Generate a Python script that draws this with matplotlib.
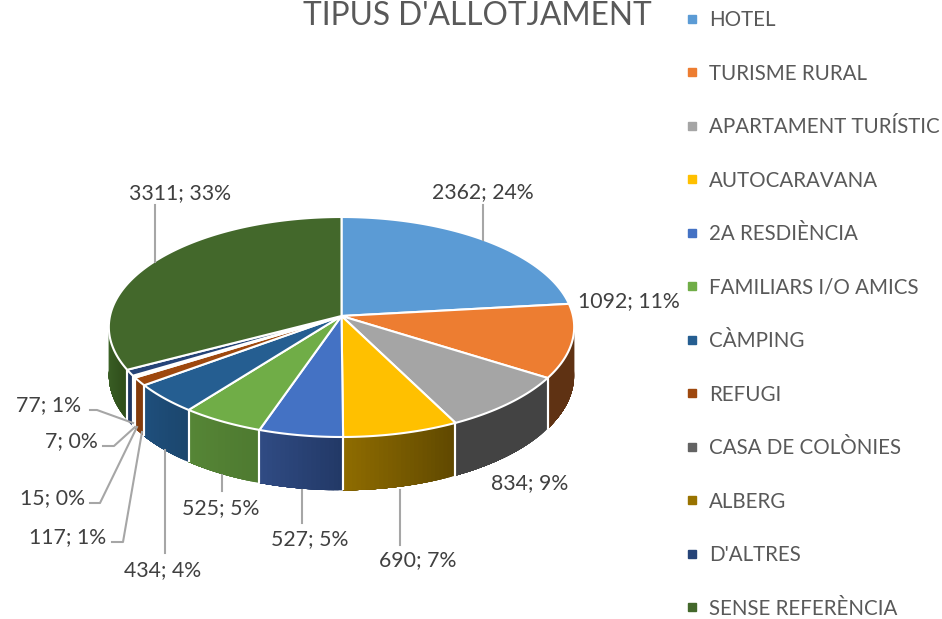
import numpy as np
import matplotlib
matplotlib.use("Agg")
import matplotlib.pyplot as plt
from matplotlib.lines import Line2D

plt.rcParams['font.family'] = ['Lato', 'DejaVu Sans']

categories = ["HOTEL", "TURISME RURAL", "APARTAMENT TURÍSTIC", "AUTOCARAVANA",
              "2A RESDIÈNCIA", "FAMILIARS I/O AMICS", "CÀMPING", "REFUGI",
              "CASA DE COLÒNIES", "ALBERG", "D'ALTRES", "SENSE REFERÈNCIA"]
# printed labels do not add up with the drawn slices, so slice sizes are read separately
labels = ["2362; 24%", "1092; 11%", "834; 9%", "690; 7%", "527; 5%", "525; 5%",
          "434; 4%", "117; 1%", "15; 0%", "7; 0%", "77; 1%", "3311; 33%"]
slice_pct = [23.2, 10.85, 8.55, 7.3, 5.3, 5.2, 4.4, 1.2, 0.2, 0.1, 0.9, 32.8]

top_colors = ["#5B9BD5", "#ED7D31", "#A5A5A5", "#FFC000", "#4472C4", "#70AD47",
              "#255E91", "#9E480E", "#636363", "#997300", "#264478", "#43682B"]
side_left = ["#5B9BD5", "#5F3213", "#434343", "#8F6C00", "#304C84", "#568636",
             "#1F4F7C", "#843C0C", "#4A4A4A", "#735600", "#1F3864", "#3F6629"]
side_right = ["#5B9BD5", "#5F3213", "#434343", "#5F4800", "#223866", "#4E7A30",
              "#1B466E", "#843C0C", "#4A4A4A", "#735600", "#1F3864", "#2F4E1B"]

# label centre, then the leader line (empty when the label has none)
label_pos = [(483, 192), (629, 301), (530, 483), (418, 560), (310, 539), (221, 508),
             (163, 570), (68, 537), (52, 498), (71, 441), (48, 405), (180, 193)]
leaders = [[(483, 205), (483, 240)], [], [], [(400, 490), (400, 545)],
           [(302, 490), (302, 523)], [(222, 475), (222, 491)], [(165, 450), (165, 553)],
           [(112, 542), (123, 542), (142, 432)], [(90, 503), (100, 503), (137, 427)],
           [(103, 446), (114, 446), (135, 427)], [(90, 410), (97, 410), (133, 423)],
           [(155, 205), (155, 262)]]

CX, CY = 341.5, 316
RX, RY = 231.5, 108.9
K = 0.1
DEPTH = 48


def project(theta, r=1.0):
    # theta clockwise from the top, front of the pie comes out bigger
    x = r*np.sin(theta)
    y = r*np.cos(theta)
    w = 1 + K*y
    return CX + RX*x/w, CY - RY*y/w


def side_depth(theta):
    return DEPTH/(1 + K*np.cos(theta))


def mix(c1, c2, t):
    a = np.array(matplotlib.colors.to_rgb(c1))
    b = np.array(matplotlib.colors.to_rgb(c2))
    return tuple(a + (b - a)*t)


fig = plt.figure(figsize=(9.42, 6.19), dpi=100)
ax = fig.add_axes([0, 0, 1, 1])
ax.set_xlim(0, 942)
ax.set_ylim(619, 0)
ax.axis("off")

edges = 2*np.pi*np.cumsum([0] + slice_pct)/sum(slice_pct)
SIDE_START, SIDE_END = np.radians(92), np.radians(268)

# side walls first, strips overlap the next one so no seams show in the gradient
for i in range(len(slice_pct)):
    a0, a1 = max(edges[i], SIDE_START), min(edges[i + 1], SIDE_END)
    if a1 <= a0:
        continue
    n = max(2, int(np.degrees(a1 - a0)))
    t = np.linspace(a0, a1, n + 1)
    for j in range(n):
        # theta runs right to left along the front
        c = mix(side_right[i], side_left[i], (j + 0.5)/n)
        tt = np.linspace(t[j], t[-1], 2 + n - j)
        x, y = project(tt)
        xs = np.concatenate([x, x[::-1]])
        ys = np.concatenate([y, (y + side_depth(tt))[::-1]])
        ax.fill(xs, ys, color=c, lw=0, zorder=2)
    for a in (a0, a1):
        if a in (SIDE_START, SIDE_END):
            continue
        x, y = project(a)
        ax.plot([x, x], [y, y + side_depth(a)], color="white", lw=1.5, zorder=3,
                solid_capstyle="butt")

# top face
for i in range(len(slice_pct)):
    t = np.linspace(edges[i], edges[i + 1], max(3, int(slice_pct[i]*4)))
    x, y = project(t)
    ax.fill(np.r_[CX, x], np.r_[CY, y], facecolor=top_colors[i], edgecolor="white",
            lw=1.5, joinstyle="round", zorder=4)

# data labels and leader lines
for text, pos, line in zip(labels, label_pos, leaders):
    ax.text(pos[0], pos[1], text, fontsize=15.3, color="#404040", ha="center", va="center",
            zorder=6)
    if line:
        ax.plot([p[0] for p in line], [p[1] for p in line], color="#A6A6A6", lw=1.5, zorder=5)

ax.text(477, 16, "TIPUS D'ALLOTJAMENT", fontsize=22.8, color="#595959", ha="center", va="center")

handles = [Line2D([], [], linestyle="none", marker="s", markersize=5.8, color=c)
           for c in top_colors]
fig.legend(handles, categories, loc="upper left", bbox_to_anchor=(682/942, 1 - 10/619),
           frameon=False, fontsize=14.8, labelcolor="#595959", borderpad=0, borderaxespad=0,
           handlelength=1, handletextpad=0.31, labelspacing=1.63)

fig.savefig("out.png", dpi=100)
